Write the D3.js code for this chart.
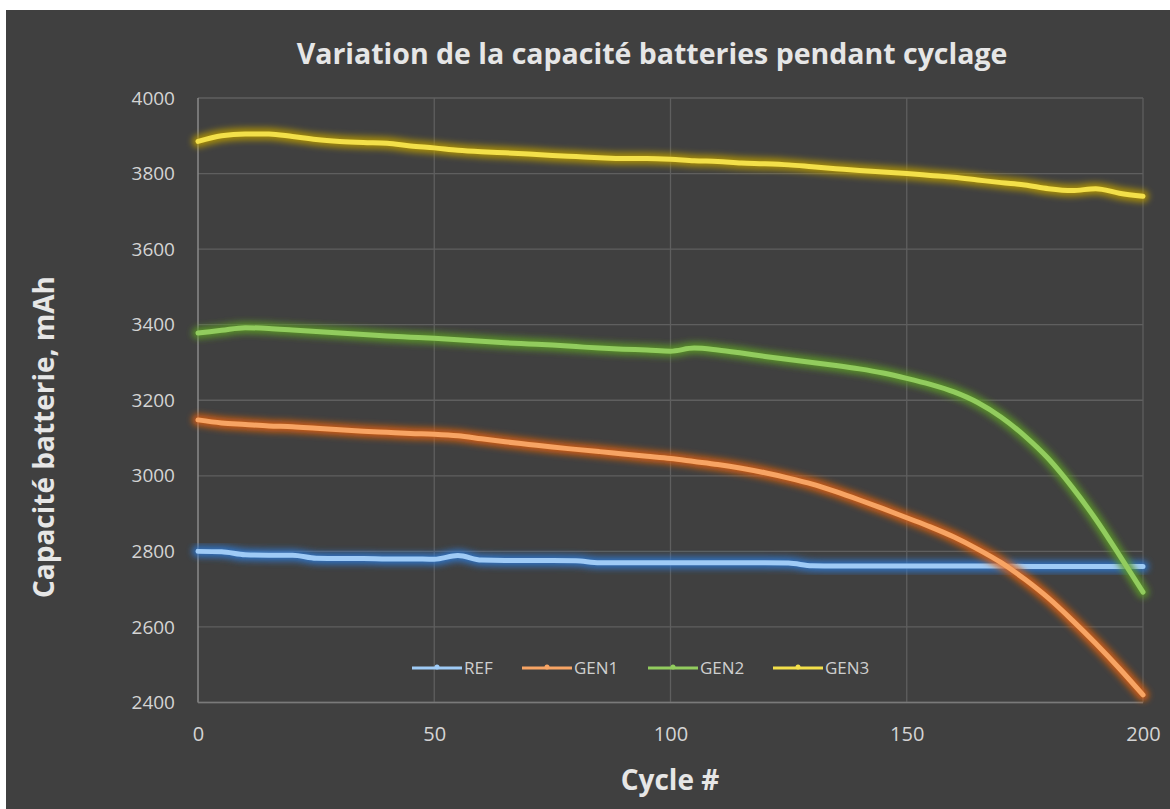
<!DOCTYPE html>
<html><head><meta charset="utf-8">
<script src="https://cdn.jsdelivr.net/npm/d3@7"></script>
<style>html,body{margin:0;padding:0;background:#fff;overflow:hidden}</style>
</head><body><svg id="c" width="1170" height="809"></svg>
<script>
const cycles = [0,5,10,15,20,25,30,35,40,45,50,55,60,65,70,75,80,85,90,95,100,105,110,115,120,125,130,135,140,145,150,155,160,165,170,175,180,185,190,195,200];
const refValues  = [2800,2799,2791,2790,2790,2782,2781,2781,2780,2780,2779,2789,2777,2776,2776,2776,2775,2770,2770,2770,2770,2770,2770,2770,2770,2769,2762,2761,2761,2761,2761,2761,2761,2761,2761,2760,2760,2760,2760,2760,2760];
const gen1Values = [3148,3140,3136,3132,3130,3126,3122,3118,3115,3112,3110,3106,3098,3090,3083,3076,3070,3064,3058,3052,3046,3038,3030,3020,3008,2994,2978,2958,2936,2913,2889,2865,2838,2806,2770,2726,2676,2618,2556,2490,2420];
const gen2Values = [3378,3385,3392,3390,3386,3382,3378,3374,3370,3367,3364,3360,3356,3352,3349,3346,3342,3338,3335,3333,3330,3338,3333,3325,3316,3308,3300,3292,3283,3272,3258,3242,3222,3194,3155,3105,3045,2970,2885,2790,2692];
const gen3Values = [3885,3900,3905,3905,3898,3890,3885,3882,3880,3873,3868,3862,3858,3855,3852,3848,3845,3842,3840,3840,3838,3834,3832,3828,3826,3823,3818,3813,3808,3804,3800,3795,3790,3783,3776,3770,3760,3755,3760,3748,3740];
const seriesNames = ["REF","GEN1","GEN2","GEN3"];
const yTicks = [2400,2600,2800,3000,3200,3400,3600,3800,4000];
const xTicks = [0,50,100,150,200];
const titleText = "Variation de la capacité batteries pendant cyclage";
const yLabel = "Capacité batterie, mAh";
const xLabel = "Cycle #";

const seriesVals = [refValues, gen1Values, gen2Values, gen3Values];
const coreCol = ["#9fcbf6","#f7a464","#92cc5e","#f3e04a"];
const glowCol = ["#2f78d0","#e0600a","#5c9a28","#b89a00"];
const FONT = "'Open Sans', Lato, sans-serif";

const svg = d3.select("#c");
svg.append("rect").attr("x",6).attr("y",10).attr("width",1164).attr("height",799).attr("fill","#404040");

const defs = svg.append("defs");
seriesNames.forEach((n,i)=>{
  const f = defs.append("filter").attr("id","glow"+i).attr("x","-10%").attr("y","-50%").attr("width","120%").attr("height","200%");
  f.append("feGaussianBlur").attr("in","SourceGraphic").attr("stdDeviation",3);
});

const x = d3.scaleLinear().domain([0,200]).range([198,1143]);
const y = d3.scaleLinear().domain([2400,4000]).range([702.5,98]);

// grid
const g = svg.append("g");
g.selectAll(".hg").data(yTicks).join("line")
  .attr("x1",198).attr("x2",1143).attr("y1",d=>y(d)).attr("y2",d=>y(d))
  .attr("stroke","#5f5f5f").attr("stroke-width",1.3);
g.selectAll(".vg").data(xTicks.slice(1)).join("line")
  .attr("y1",98).attr("y2",702.5).attr("x1",d=>x(d)).attr("x2",d=>x(d))
  .attr("stroke","#5f5f5f").attr("stroke-width",1.3);
g.append("line").attr("x1",198).attr("x2",198).attr("y1",98).attr("y2",702.5).attr("stroke","#8a8a8a").attr("stroke-width",1.5);
g.append("line").attr("x1",198).attr("x2",1143).attr("y1",702.5).attr("y2",702.5).attr("stroke","#7a7a7a").attr("stroke-width",1.3);

// axes
const yAxis = d3.axisLeft(y).tickValues(yTicks).tickFormat(d3.format("d")).tickSize(0).tickPadding(23);
const ya = svg.append("g").attr("transform","translate(198,0)").call(yAxis);
ya.select(".domain").remove();
ya.selectAll("text").attr("fill","#d4d4d4").style("font-family",FONT).style("font-size","19px");
const xAxis = d3.axisBottom(x).tickValues(xTicks).tickFormat(d3.format("d")).tickSize(0).tickPadding(24);
const xa = svg.append("g").attr("transform","translate(0,702.5)").call(xAxis);
xa.select(".domain").remove();
xa.selectAll("text").attr("fill","#d4d4d4").style("font-family",FONT).style("font-size","20px");

// lines
const line = d3.line().x((d,i)=>x(cycles[i])).y(d=>y(d)).curve(d3.curveMonotoneX);
seriesVals.forEach((vals,i)=>{
  svg.append("path").attr("d",line(vals)).attr("fill","none").attr("stroke",glowCol[i]).attr("stroke-width",12)
    .attr("stroke-linecap","round").attr("opacity",0.85).attr("filter","url(#glow"+i+")");
  svg.append("path").attr("d",line(vals)).attr("fill","none").attr("stroke",coreCol[i]).attr("stroke-width",5)
    .attr("stroke-linecap","round");
});

// legend
const legX = [412,522,648,773];
const lg = svg.append("g");
seriesNames.forEach((n,i)=>{
  const yy = 668;
  lg.append("line").attr("x1",legX[i]).attr("x2",legX[i]+50).attr("y1",yy).attr("y2",yy)
    .attr("stroke",glowCol[i]).attr("stroke-width",7).attr("opacity",0.7).attr("filter","url(#glow"+i+")");
  lg.append("line").attr("x1",legX[i]).attr("x2",legX[i]+50).attr("y1",yy).attr("y2",yy)
    .attr("stroke",coreCol[i]).attr("stroke-width",3);
  lg.append("circle").attr("cx",legX[i]+25).attr("cy",yy-1).attr("r",2.5).attr("fill",coreCol[i]);
  lg.append("text").attr("x",legX[i]+52).attr("y",yy+6).text(n)
    .attr("fill","#cfcfcf").style("font-family",FONT).style("font-size","17px");
});

// titles
svg.append("text").attr("x",652).attr("y",64).attr("text-anchor","middle").text(titleText)
  .attr("fill","#e6e6e6").style("font-family",FONT).style("font-weight","bold").style("font-size","28.5px");
svg.append("text").attr("transform","translate(54,437) rotate(-90)").attr("text-anchor","middle").text(yLabel)
  .attr("fill","#e6e6e6").style("font-family",FONT).style("font-weight","bold").style("font-size","28px");
svg.append("text").attr("x",670).attr("y",790).attr("text-anchor","middle").text(xLabel)
  .attr("fill","#e6e6e6").style("font-family",FONT).style("font-weight","bold").style("font-size","28px");
</script></body></html>
